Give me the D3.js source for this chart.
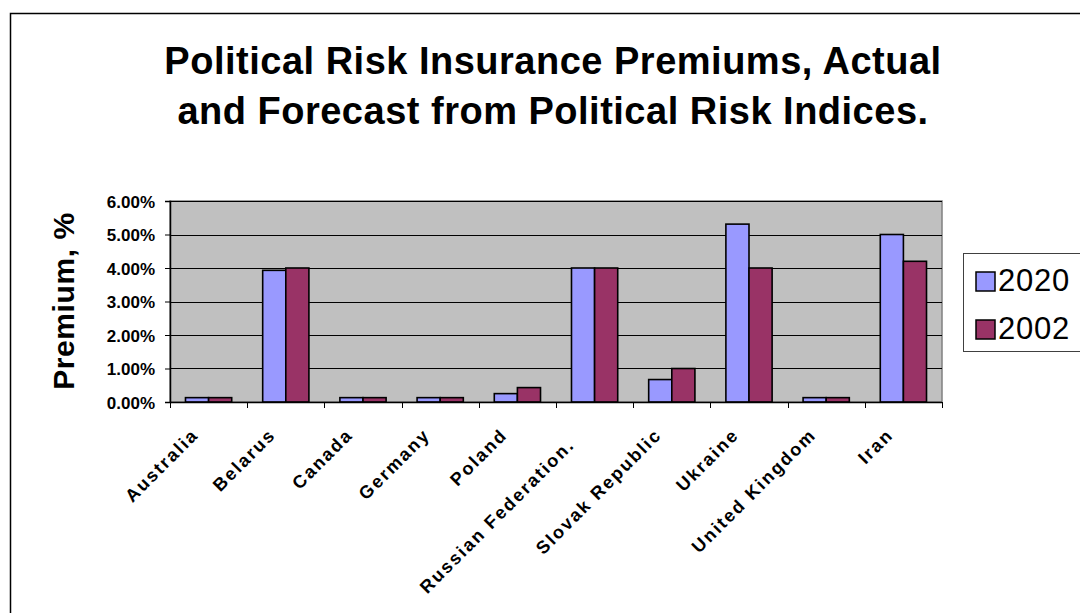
<!DOCTYPE html>
<html>
<head>
<meta charset="utf-8">
<script src="https://cdn.jsdelivr.net/npm/d3@7"></script>
<style>
  html, body { margin: 0; padding: 0; background: #fff; }
  svg { display: block; font-family: Arial, "Liberation Sans", sans-serif; }
  .xlabel { white-space: pre; }
</style>
</head>
<body>
<svg id="chart" width="1080" height="613"></svg>
<script>
// Premium data (fractions; axis shows percent)
const categories = ["Australia", "Belarus", "Canada", "Germany", "Poland",
  "Russian Federation.  ", "Slovak Republic", "Ukraine", "United Kingdom", "Iran"];
const seriesNames = ["2020", "2002"];
const values2020 = [0.0013, 0.0393, 0.0013, 0.0013, 0.0025, 0.0400, 0.0067, 0.0531, 0.0013, 0.0500];
const values2002 = [0.0013, 0.0400, 0.0013, 0.0013, 0.0043, 0.0400, 0.0100, 0.0400, 0.0013, 0.0420];
const yTicks = [0, 0.01, 0.02, 0.03, 0.04, 0.05, 0.06];
const seriesColors = ["#9999FF", "#993366"];

const table = categories.map((c, i) => ({ category: c, values: [values2020[i], values2002[i]] }));

const svg = d3.select("#chart");
const plot = { left: 170, right: 942, top: 201, bottom: 402 };

// Outer chart frame
svg.append("rect")
  .attr("x", 10.5).attr("y", 13.5)
  .attr("width", 1200).attr("height", 800)
  .attr("fill", "#fff").attr("stroke", "#000").attr("stroke-width", 1.5);

// Title
const title = svg.append("text")
  .attr("text-anchor", "middle")
  .attr("font-size", 38).attr("font-weight", "bold")
  .attr("letter-spacing", 0.5)
  .attr("fill", "#000");
title.append("tspan").attr("x", 553).attr("y", 74).text("Political Risk Insurance Premiums, Actual");
title.append("tspan").attr("x", 553).attr("y", 124).text("and Forecast from Political Risk Indices.");

// Scales
const x0 = d3.scaleBand().domain(categories).range([plot.left, plot.right]).padding(0);
const x1 = d3.scaleBand().domain(seriesNames).range([0, x0.bandwidth()])
  .paddingInner(0).paddingOuter(0.67);
const y = d3.scaleLinear().domain([0, 0.06]).range([plot.bottom, plot.top]);

// Plot background
svg.append("rect")
  .attr("x", plot.left).attr("y", plot.top)
  .attr("width", plot.right - plot.left).attr("height", plot.bottom - plot.top)
  .attr("fill", "#C0C0C0").attr("stroke", "#808080").attr("stroke-width", 1.5);

// Gridlines
svg.append("g")
  .selectAll("line")
  .data(yTicks.filter(t => t > 0))
  .join("line")
  .attr("x1", plot.left).attr("x2", plot.right)
  .attr("y1", d => Math.round(y(d)) + 0.5).attr("y2", d => Math.round(y(d)) + 0.5)
  .attr("stroke", "#000").attr("stroke-width", 1);

// Bars
const groups = svg.append("g")
  .selectAll("g")
  .data(table)
  .join("g")
  .attr("transform", d => `translate(${x0(d.category)},0)`);

groups.selectAll("rect")
  .data(d => d.values.map((v, i) => ({ series: seriesNames[i], value: v, i })))
  .join("rect")
  .attr("x", d => x1(d.series))
  .attr("width", x1.bandwidth())
  .attr("y", d => y(d.value))
  .attr("height", d => y(0) - y(d.value))
  .attr("fill", d => seriesColors[d.i])
  .attr("stroke", "#000").attr("stroke-width", 1.6);

// Y axis
const yAxis = d3.axisLeft(y).tickValues(yTicks).tickSize(5).tickPadding(10)
  .tickFormat(d3.format(".2%"));
const yg = svg.append("g")
  .attr("transform", `translate(${plot.left},0)`)
  .call(yAxis);
yg.select(".domain").attr("stroke", "#000").attr("stroke-width", 1.5);
yg.selectAll(".tick line").attr("stroke", "#000");
yg.selectAll(".tick text")
  .attr("font-family", "Arial, 'Liberation Sans', sans-serif")
  .attr("font-size", 17).attr("font-weight", "bold").attr("fill", "#000")
  .attr("dy", "0.36em");

// X axis: ticks on category boundaries, rotated labels
const xg = svg.append("g")
  .attr("transform", `translate(0,${plot.bottom})`);
xg.append("line")
  .attr("x1", plot.left).attr("x2", plot.right)
  .attr("y1", 0.5).attr("y2", 0.5)
  .attr("stroke", "#000").attr("stroke-width", 1.5);
xg.selectAll("line.tick")
  .data(categories.concat(["__end"]))
  .join("line")
  .attr("class", "tick")
  .attr("x1", (d, i) => Math.round(plot.left + i * x0.step()) + 0.5)
  .attr("x2", (d, i) => Math.round(plot.left + i * x0.step()) + 0.5)
  .attr("y1", 0).attr("y2", 6)
  .attr("stroke", "#000");
xg.selectAll("text")
  .data(categories)
  .join("text")
  .attr("class", "xlabel")
  .attr("text-anchor", "end")
  .attr("font-size", 18).attr("font-weight", "bold")
  .attr("letter-spacing", 2)
  .attr("fill", "#000")
  .attr("transform", d => `translate(${x0(d) + x0.bandwidth() / 2 - 9},34) rotate(-45)`)
  .text(d => d);

// Y axis title
svg.append("text")
  .attr("transform", "translate(74,301) rotate(-90)")
  .attr("text-anchor", "middle")
  .attr("font-size", 30).attr("font-weight", "bold")
  .attr("letter-spacing", 0.6)
  .attr("fill", "#000")
  .text("Premium, %");

// Legend
const legend = svg.append("g");
legend.append("rect")
  .attr("x", 963.5).attr("y", 253.5)
  .attr("width", 140).attr("height", 98)
  .attr("fill", "#fff").attr("stroke", "#404040").attr("stroke-width", 1);
const li = legend.selectAll("g")
  .data(seriesNames)
  .join("g")
  .attr("transform", (d, i) => `translate(976,${272 + i * 48})`);
li.append("rect")
  .attr("width", 19).attr("height", 19)
  .attr("fill", (d, i) => seriesColors[i])
  .attr("stroke", "#000").attr("stroke-width", 1.5);
li.append("text")
  .attr("x", 22).attr("y", 19)
  .attr("font-size", 31)
  .attr("letter-spacing", 0.8)
  .attr("fill", "#000")
  .text(d => d);
</script>
</body>
</html>
